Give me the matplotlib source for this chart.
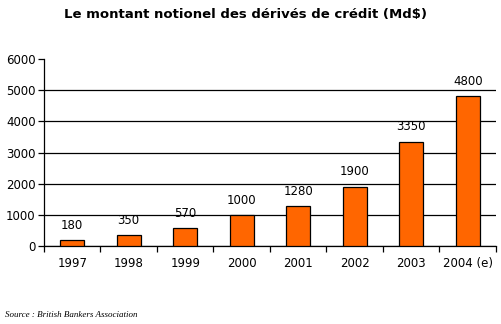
"""Notional amount of credit derivatives, 1997-2004 (bar chart)."""
import matplotlib
matplotlib.use('Agg')
import matplotlib.pyplot as plt

YEARS = ['1997', '1998', '1999', '2000', '2001', '2002', '2003', '2004 (e)']
AMOUNTS = [180, 350, 570, 1000, 1280, 1900, 3350, 4800]
Y_TICKS = [0, 1000, 2000, 3000, 4000, 5000, 6000]

TITLE = 'Le montant notionel des dérivés de crédit (Md$)'
SOURCE = 'Source : British Bankers Association'

fig = plt.figure(figsize=(5.02, 3.24), dpi=100)
ax = fig.add_axes([0.0876, 0.2407, 0.9004, 0.5772])

x = range(len(YEARS))
bars = ax.bar(x, AMOUNTS, width=0.43, color='#ff6600', edgecolor='black', linewidth=0.9, zorder=3)
for bar, v in zip(bars, AMOUNTS):
    ax.annotate(str(v), (bar.get_x() + bar.get_width() / 2, bar.get_height()),
                xytext=(0, 6), textcoords='offset points', ha='center', va='bottom',
                fontsize=8.5)

ax.set_xlim(-0.5, len(YEARS) - 0.5)
ax.set_ylim(0, 6000)
ax.set_yticks(Y_TICKS)
ax.tick_params(axis='y', labelsize=8.5, length=4, width=0.9, pad=2)

# category labels centred, tick marks between categories
ax.set_xticks([i - 0.5 for i in range(len(YEARS) + 1)])
ax.set_xticklabels([])
ax.set_xticks(list(x), minor=True)
ax.set_xticklabels(YEARS, minor=True, fontsize=8.5)
ax.tick_params(axis='x', which='major', length=4, width=0.9)
ax.tick_params(axis='x', which='minor', length=0, pad=8)

ax.grid(axis='y', color='black', linewidth=0.9, zorder=0)
ax.yaxis.get_gridlines()[-1].set_visible(False)
for s in ['top', 'right']:
    ax.spines[s].set_visible(False)
for s in ['left', 'bottom']:
    ax.spines[s].set_linewidth(0.9)

fig.text(0.49, 0.955, TITLE, ha='center', va='center', fontsize=9.5, fontweight='bold')
fig.text(0.01, 0.028, SOURCE, ha='left', va='center', fontsize=6.5,
         family='Liberation Serif', style='italic')

plt.savefig('out.png', dpi=100)
